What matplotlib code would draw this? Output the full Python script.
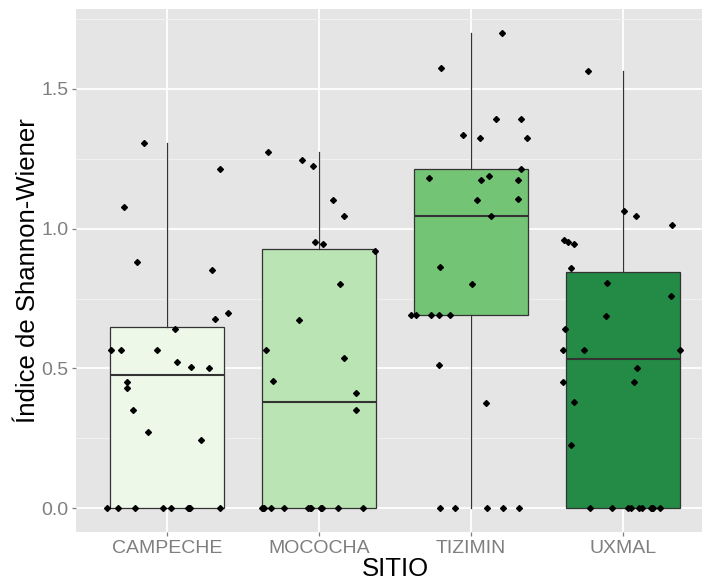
import numpy as np
import matplotlib
matplotlib.use("Agg")
import matplotlib.pyplot as plt
from matplotlib.ticker import MultipleLocator, FormatStrFormatter

plt.rcParams['font.family'] = ['Liberation Sans', 'DejaVu Sans']

# data
sitios = ["CAMPECHE", "MOCOCHA", "TIZIMIN", "UXMAL"]
fills = ["#EDF8E9", "#BAE4B3", "#74C476", "#238B45"]

campeche = [1.308, 1.215, 1.079, 0.880, 0.851, 0.698, 0.676, 0.640, 0.565, 0.565,
            0.565, 0.523, 0.505, 0.501, 0.451, 0.430, 0.351, 0.273, 0.245,
            0, 0, 0, 0, 0, 0, 0, 0, 0]
mococha = [1.273, 1.245, 1.226, 1.101, 1.044, 0.954, 0.944, 0.920, 0.801, 0.673,
           0.565, 0.537, 0.455, 0.412, 0.350,
           0, 0, 0, 0, 0, 0, 0, 0, 0, 0, 0, 0, 0]
tizimin = [1.701, 1.574, 1.392, 1.392, 1.337, 1.326, 1.326, 1.215, 1.183, 1.187,
           1.173, 1.176, 1.101, 1.105, 1.044, 0.863, 0.801, 0.693, 0.693, 0.693,
           0.693, 0.693, 0.512, 0.376, 0, 0, 0, 0, 0]
uxmal = [1.565, 1.065, 1.045, 1.015, 0.958, 0.954, 0.944, 0.861, 0.804, 0.761,
         0.687, 0.640, 0.565, 0.565, 0.565, 0.501, 0.451, 0.451, 0.380, 0.225,
         0, 0, 0, 0, 0, 0, 0, 0, 0, 0]

# horizontal jitter of each point (category units), as seen in the picture
jit_campeche = [-0.151, 0.348, -0.283, -0.197, 0.296, 0.398, 0.315, 0.053, -0.368, -0.302,
                -0.066, 0.066, 0.158, 0.276, -0.263, -0.263, -0.223, -0.125, 0.223,
                -0.394, -0.322, -0.210, -0.026, 0.026, 0.138, 0.149, 0.348, 0.145]
jit_mococha = [-0.339, -0.109, -0.043, 0.095, 0.167, -0.024, 0.029, 0.371, 0.141, -0.135,
               -0.346, 0.167, -0.300, 0.246, 0.246,
               -0.378, -0.361, -0.319, -0.234, -0.070, -0.050, 0.011, 0.022, 0.127, 0.292,
               -0.370, -0.060, 0.016]
jit_tizimin = [0.202, -0.194, 0.167, 0.331, -0.050, 0.062, 0.366, 0.327, -0.273, 0.121,
               0.068, 0.311, 0.042, 0.311, 0.134, -0.201, 0.009, -0.392, -0.359, -0.260,
               -0.208, -0.135, -0.208, 0.101, -0.201, -0.102, 0.108, 0.213, 0.318]
jit_uxmal = [-0.227, 0.009, 0.088, 0.325, -0.390, -0.359, -0.324, -0.339, -0.102, 0.318,
             -0.114, -0.378, -0.392, -0.254, 0.377, 0.092, 0.075, -0.392, -0.319, -0.339,
             -0.214, -0.070, 0.033, 0.053, 0.108, 0.129, 0.184, 0.197, 0.246, 0.190]

values = [campeche, mococha, tizimin, uxmal]
jitters = [jit_campeche, jit_mococha, jit_tizimin, jit_uxmal]

W, H = 702, 582
fig = plt.figure(figsize=(W / 100, H / 100), dpi=100)
# panel runs past the right edge, as in the reference (cropped image)
ax = fig.add_axes([76 / W, 1 - 532 / H, 638 / W, 523 / H])
ax.set_facecolor("#E5E5E5")
for s in ax.spines.values():
    s.set_visible(False)

pos = np.arange(1, len(sitios) + 1)
bp = ax.boxplot(values, positions=pos, widths=0.75, patch_artist=True,
                showfliers=False, showcaps=False, whis=1.5, zorder=3)
for patch, c in zip(bp['boxes'], fills):
    patch.set_facecolor(c)
    patch.set_edgecolor("#333333")
    patch.set_linewidth(0.9)
for w in bp['whiskers']:
    w.set_color("#333333")
    w.set_linewidth(0.9)
for m in bp['medians']:
    m.set_color("#333333")
    m.set_linewidth(1.5)

for p, v, j in zip(pos, values, jitters):
    ax.plot(p + np.array(j), v, linestyle="none", marker="D", markersize=3.0,
            color="black", zorder=4)

ax.set_xlim(0.4, 4.6)
ax.set_ylim(-0.085, 1.786)
ax.yaxis.set_major_locator(MultipleLocator(0.5))
ax.yaxis.set_minor_locator(MultipleLocator(0.25))
ax.yaxis.set_major_formatter(FormatStrFormatter("%.1f"))
ax.set_xticks(pos)
ax.set_xticklabels(sitios)

ax.grid(which="major", color="white", linewidth=1.3, zorder=0)
ax.grid(which="minor", axis="y", color="#F2F2F2", linewidth=0.7, zorder=0)
ax.set_axisbelow(True)

ax.tick_params(axis="both", which="major", length=3, width=0.9, color="#7F7F7F",
               labelcolor="#7F7F7F", labelsize=14, pad=2.5)
ax.tick_params(axis="y", which="minor", length=0)

ax.set_xlabel("SITIO", fontsize=18.5, labelpad=0)
ax.set_ylabel("Índice de Shannon-Wiener", fontsize=18.5, labelpad=1)

fig.savefig("out.png", dpi=100)
